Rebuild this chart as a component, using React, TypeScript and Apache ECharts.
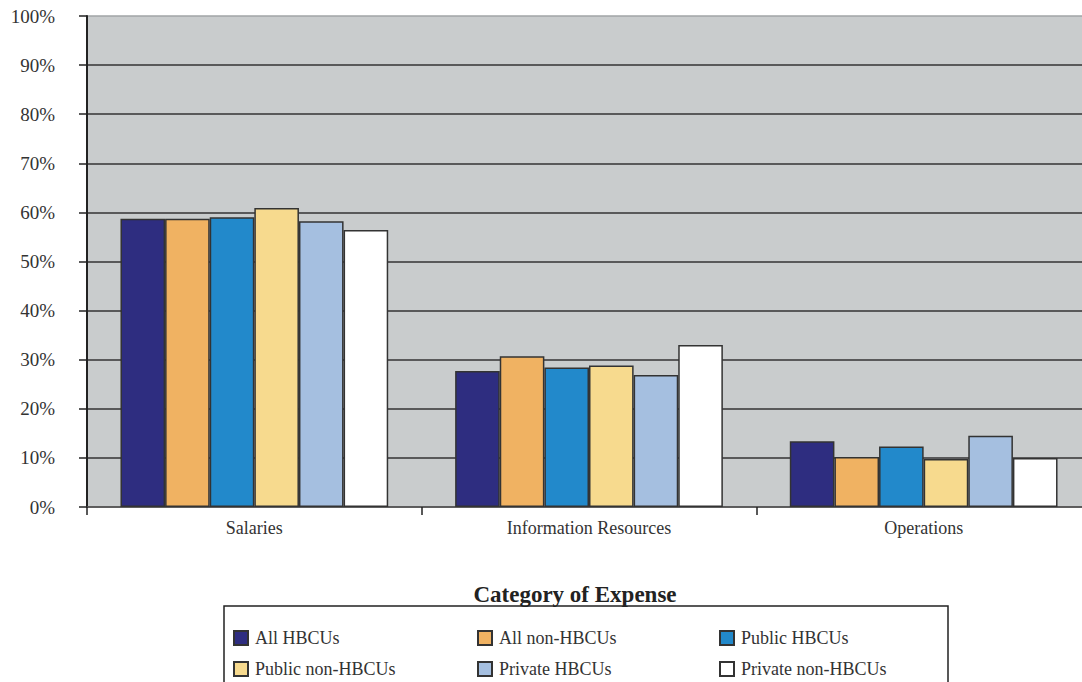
import React, { useEffect, useRef } from "react";
import * as echarts from "echarts";

const categories = ["Salaries", "Information Resources", "Operations"];
const seriesNames = [
  "All HBCUs",
  "All non-HBCUs",
  "Public HBCUs",
  "Public non-HBCUs",
  "Private HBCUs",
  "Private non-HBCUs",
];
const allHBCUs = [58.7, 27.7, 13.4];
const allNonHBCUs = [58.7, 30.7, 10.2];
const publicHBCUs = [59.0, 28.4, 12.3];
const publicNonHBCUs = [60.9, 28.8, 9.8];
const privateHBCUs = [58.2, 26.9, 14.5];
const privateNonHBCUs = [56.4, 33.0, 10.0];
const seriesValues = [allHBCUs, allNonHBCUs, publicHBCUs, publicNonHBCUs, privateHBCUs, privateNonHBCUs];
const colors = ["#2e2d80", "#f0b262", "#2289cb", "#f7da8e", "#a5bfe0", "#ffffff"];
const axisTitle = "Category of Expense";

const FONT = "'Liberation Serif', 'DejaVu Serif', serif";

export default function App() {
  const ref = useRef<HTMLDivElement>(null);
  useEffect(() => {
    if (!ref.current) return;
    const chart = echarts.init(ref.current, undefined, { renderer: "svg" });
    const legendCol = (names: string[], left: number) => ({
      data: names,
      orient: "vertical",
      left,
      top: 629,
      padding: 0,
      itemWidth: 14,
      itemHeight: 14,
      itemGap: 13,
      icon: "rect",
      textStyle: { fontFamily: FONT, fontSize: 18, color: "#333", padding: [0, 0, 0, 2] },
    });
    chart.setOption({
      animation: false,
      backgroundColor: "#ffffff",
      grid: {
        left: 87,
        top: 16,
        width: 1004,
        height: 491,
        show: true,
        backgroundColor: "#c9cccd",
        borderWidth: 0,
      },
      legend: [
        legendCol([seriesNames[0], seriesNames[3]], 233),
        legendCol([seriesNames[1], seriesNames[4]], 477),
        legendCol([seriesNames[2], seriesNames[5]], 719),
      ],
      graphic: [
        {
          type: "rect",
          shape: { x: 224, y: 606, width: 724, height: 100 },
          style: { fill: "none", stroke: "#222", lineWidth: 1.5 },
        },
        {
          type: "text",
          x: 575,
          y: 594,
          style: {
            text: axisTitle,
            fontFamily: FONT,
            fontSize: 23,
            fontWeight: "bold",
            fill: "#222",
            align: "center",
            verticalAlign: "middle",
          },
        },
      ],
      xAxis: {
        type: "category",
        data: categories,
        axisLine: { show: true, lineStyle: { color: "#555", width: 1.5 } },
        axisTick: { show: true, length: 8, lineStyle: { color: "#222", width: 1.5 } },
        axisLabel: { fontFamily: FONT, fontSize: 18, color: "#333", margin: 12 },
      },
      yAxis: {
        type: "value",
        min: 0,
        max: 100,
        interval: 10,
        axisLine: { show: true, lineStyle: { color: "#222", width: 2 } },
        axisTick: { show: true, length: 8, lineStyle: { color: "#222", width: 1.5 } },
        axisLabel: {
          fontFamily: FONT,
          fontSize: 19,
          color: "#333",
          margin: 32,
          formatter: (v: number) => `${v}%`,
        },
        splitLine: {
          show: true,
          lineStyle: {
            color: ["#555", "#333", "#333", "#333", "#333", "#333", "#333", "#333", "#333", "#333", "#a0a4a6"],
            width: 1.5,
          },
        },
      },
      series: seriesNames.map((name, i) => ({
        name,
        type: "bar",
        data: seriesValues[i],
        barGap: "0%",
        barCategoryGap: "20%",
        itemStyle: { color: colors[i], borderColor: "#333", borderWidth: 1.5 },
      })),
    });
    return () => chart.dispose();
  }, []);
  return (
    <div
      ref={ref}
      style={{ position: "fixed", left: 0, top: 0, width: 1100, height: 682 }}
    />
  );
}
